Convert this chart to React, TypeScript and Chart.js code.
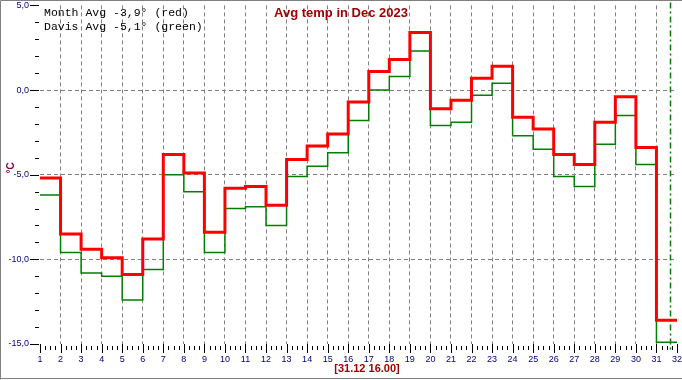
import React, { useEffect, useRef } from "react";
import { Chart, registerables } from "chart.js";

Chart.register(...registerables);

// ---- data ----
const DAYS = Array.from({ length: 31 }, (_, i) => i + 1);
const MONTH_AVG = [-5.2, -8.5, -9.4, -9.9, -10.9, -8.8, -3.8, -4.9, -8.4, -5.8, -5.7, -6.8, -4.1, -3.3, -2.6, -0.7, 1.1, 1.8, 3.4, -1.1, -0.6, 0.7, 1.4, -1.6, -2.3, -3.8, -4.4, -1.9, -0.4, -3.4, -13.6];
const DAVIS_AVG = [-6.2, -9.6, -10.8, -11.0, -12.4, -10.6, -5.0, -6.0, -9.6, -7.0, -6.9, -8.0, -5.1, -4.5, -3.7, -1.8, 0.0, 0.8, 2.3, -2.1, -1.9, -0.3, 0.4, -2.7, -3.5, -5.1, -5.7, -3.2, -1.5, -4.4, -14.9];
const NOW_DAY = 31 + 16 / 24; // 31.12 16:00
const TITLE = "Avg temp in Dec 2023";
const LEGEND_LINES = ["Month Avg -3,9\u00b0 (red)", "Davis Avg -5,1\u00b0 (green)"];
const SUBTITLE = "[31.12 16.00]";
const Y_UNIT = "\u00b0C";
const X_MIN = 1;
const X_MAX = 32;
const Y_MIN = -15;
const Y_MAX = 5;

function stepPoints(vals: number[]) {
  const pts = vals.map((v, i) => ({ x: DAYS[i], y: v }));
  pts.push({ x: DAYS[DAYS.length - 1] + 1, y: vals[vals.length - 1] });
  return pts;
}

const decor = {
  id: "decor",
  beforeDatasetsDraw(chart: any) {
    const { ctx, chartArea, scales } = chart;
    const px = Math.round(scales.x.getPixelForValue(NOW_DAY)) + 0.5;
    ctx.save();
    ctx.strokeStyle = "#008000";
    ctx.lineWidth = 1.5;
    ctx.setLineDash([6, 3, 2, 3]);
    ctx.beginPath();
    ctx.moveTo(px, chartArea.top - 3);
    ctx.lineTo(px, chartArea.bottom + 6);
    ctx.stroke();
    ctx.restore();
  },
  afterDraw(chart: any) {
    const { ctx, chartArea, scales, width, height } = chart;
    ctx.save();
    // frame
    ctx.strokeStyle = "#808080";
    ctx.lineWidth = 1;
    ctx.beginPath();
    ctx.moveTo(0.5, height - 0.5);
    ctx.lineTo(0.5, 0.5);
    ctx.lineTo(width, 0.5);
    ctx.moveTo(0, height - 1.5);
    ctx.lineTo(width, height - 1.5);
    ctx.stroke();

    // y ticks
    ctx.strokeStyle = "#000";
    ctx.beginPath();
    for (let v = Y_MIN; v <= Y_MAX; v += 1) {
      const py = Math.round(scales.y.getPixelForValue(v)) + 0.5;
      const major = v % 5 === 0;
      ctx.moveTo(chartArea.left - (major ? 10 : 5), py);
      ctx.lineTo(chartArea.left - 1, py);
    }
    // x ticks
    for (let d = X_MIN; d <= X_MAX + 1e-9; d += 0.25) {
      const px = Math.round(scales.x.getPixelForValue(d)) + 0.5;
      const major = Math.abs(d - Math.round(d)) < 1e-6;
      const b = chartArea.bottom;
      if (major) {
        ctx.moveTo(px, b);
        ctx.lineTo(px, b + 9);
      } else {
        ctx.moveTo(px, b + 2);
        ctx.lineTo(px, b + 6);
      }
    }
    ctx.stroke();

    // title
    ctx.fillStyle = "#a00000";
    ctx.font = "bold 13px 'Liberation Sans', Arial, sans-serif";
    ctx.textAlign = "center";
    ctx.textBaseline = "middle";
    ctx.fillText(TITLE, 341, 13);

    // subtitle
    ctx.font = "bold 11px 'Liberation Sans', Arial, sans-serif";
    ctx.fillText(SUBTITLE, 367, 369);

    // legend text
    ctx.fillStyle = "#000";
    ctx.font = "11.5px 'Liberation Mono', 'Courier New', monospace";
    ctx.textAlign = "left";
    ctx.fillText(LEGEND_LINES[0], 44, 13);
    ctx.fillText(LEGEND_LINES[1], 44, 26.5);

    // unit
    ctx.save();
    ctx.translate(11, 168);
    ctx.rotate(-Math.PI / 2);
    ctx.fillStyle = "#800040";
    ctx.font = "bold 10px 'Liberation Sans', Arial, sans-serif";
    ctx.textAlign = "center";
    ctx.fillText(Y_UNIT, 0, 0);
    ctx.restore();

    ctx.restore();
  },
};

export default function App() {
  const ref = useRef<HTMLCanvasElement | null>(null);
  useEffect(() => {
    document.body.style.margin = "0";
    const canvas = ref.current!;
    const axisFont = { family: "'Liberation Sans', Arial, sans-serif", size: 9 };
    const chart = new Chart(canvas, {
      type: "line",
      data: {
        datasets: [
          {
            label: "Month Avg",
            data: stepPoints(MONTH_AVG),
            borderColor: "#ff0000",
            borderWidth: 3,
            stepped: "before",
            pointRadius: 0,
            fill: false,
            borderCapStyle: "butt",
            borderJoinStyle: "miter",
          },
          {
            label: "Davis Avg",
            data: stepPoints(DAVIS_AVG),
            borderColor: "#008000",
            borderWidth: 1.5,
            stepped: "before",
            pointRadius: 0,
            fill: false,
            borderCapStyle: "butt",
            borderJoinStyle: "miter",
          },
        ],
      },
      options: {
        animation: false,
        responsive: false,
        devicePixelRatio: 1,
        parsing: false as any,
        layout: { padding: { top: 5, right: 5, left: 0, bottom: 0 } },
        plugins: { legend: { display: false }, tooltip: { enabled: false }, title: { display: false } },
        scales: {
          x: {
            type: "linear",
            min: X_MIN,
            max: X_MAX,
            afterFit: (s: any) => { s.height = 36; },
            ticks: {
              stepSize: 1,
              autoSkip: false,
              maxRotation: 0,
              padding: 0,
              color: "#000080",
              font: axisFont,
              callback: (v: any) => String(v),
            },
            grid: {
              drawTicks: true,
              tickLength: 10,
              tickColor: "rgba(0,0,0,0)",
              color: (c: any) => (c.tick && (c.tick.value === X_MIN || c.tick.value === X_MAX) ? "rgba(0,0,0,0)" : "#808080"),
              lineWidth: 1,
            },
            border: { display: false, dash: [4, 3] },
          },
          y: {
            type: "linear",
            min: Y_MIN,
            max: Y_MAX,
            afterFit: (s: any) => { s.width = 40; },
            ticks: {
              stepSize: 5,
              padding: 0,
              color: "#000080",
              font: axisFont,
              callback: (v: any) => Number(v).toFixed(1).replace(".", ","),
            },
            grid: {
              drawTicks: true,
              tickLength: 11,
              tickColor: "rgba(0,0,0,0)",
              color: (c: any) => (c.tick && (c.tick.value === Y_MIN || c.tick.value === Y_MAX) ? "rgba(0,0,0,0)" : "#808080"),
              lineWidth: 1,
            },
            border: { display: false, dash: [4, 3] },
          },
        },
      },
      plugins: [decor],
    } as any);
    return () => chart.destroy();
  }, []);
  return (
    <div style={{ width: 682, height: 380, background: "#fff" }}>
      <canvas ref={ref} width={682} height={380} style={{ display: "block" }} />
    </div>
  );
}
